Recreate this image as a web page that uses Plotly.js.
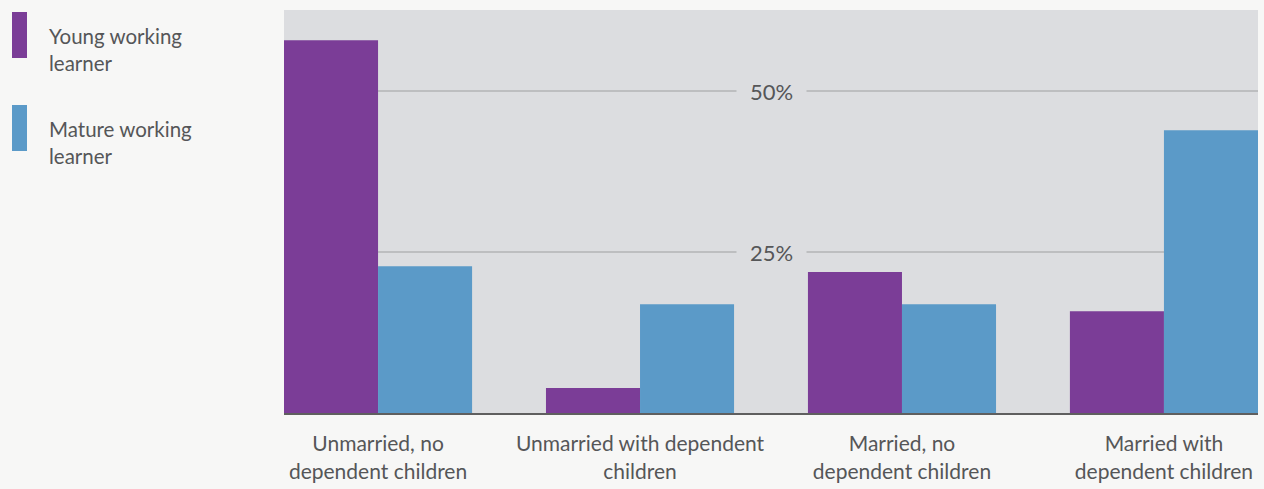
<!DOCTYPE html>
<html>
<head>
<meta charset="utf-8">
<script src="https://cdn.plot.ly/plotly-3.0.1.min.js"></script>
<style>
  html, body { margin: 0; padding: 0; background: #f7f7f6; }
  #chart { width: 1264px; height: 489px; }
</style>
</head>
<body>
<div id="chart"></div>
<script>
const categories = [
  "Unmarried, no<br>dependent children",
  "Unmarried with dependent<br>children",
  "Married, no<br>dependent children",
  "Married with<br>dependent children"
];
const seriesNames = ["Young working<br>learner", "Mature working<br>learner"];
const youngValues = [57.9, 3.9, 21.9, 15.8];
const matureValues = [22.8, 16.9, 16.9, 43.9];
const gridTicks = [25, 50];
const gridLabels = ["25%", "50%"];

const purple = "#7b3d97";
const blue = "#5b9ac8";
const textGray = "#555658";
const plotBg = "#dcdde0";
const tickFont = "Lato, Roboto, sans-serif";

const traces = [
  { type: "bar", x: categories, y: youngValues, name: seriesNames[0], marker: { color: purple }, hoverinfo: "y" },
  { type: "bar", x: categories, y: matureValues, name: seriesNames[1], marker: { color: blue }, hoverinfo: "y" }
];

const annotations = gridTicks.map((v, i) => ({
  xref: "paper", yref: "y", x: 0.5, y: v, text: gridLabels[i], showarrow: false,
  font: { family: tickFont, size: 22, color: textGray },
  bgcolor: plotBg, borderpad: 13, xanchor: "center", yanchor: "middle"
}));

const legendColors = [purple, blue];
const legendTops = [12, 105];
const shapes = [];
legendColors.forEach((c, i) => {
  shapes.push({ type: "rect", xref: "paper", yref: "paper", layer: "above",
    x0: -284/974 + 12/974, x1: -284/974 + 27/974,
    y0: 1 - (legendTops[i] - 10)/403, y1: 1 - (legendTops[i] + 46 - 10)/403,
    fillcolor: c, line: { width: 0 } });
  annotations.push({ xref: "paper", yref: "paper",
    x: -284/974 + 47/974, y: 1 - (legendTops[i] + 10 - 10)/403,
    xanchor: "left", yanchor: "top", align: "left", showarrow: false,
    text: seriesNames[i], font: { family: "Lato, sans-serif", size: 20.5, color: textGray } });
});

const layout = {
  width: 1264, height: 489,
  paper_bgcolor: "#f7f7f6", plot_bgcolor: plotBg,
  margin: { l: 284, r: 6, t: 10, b: 76, pad: 0 },
  barmode: "group", bargap: 0.282, bargroupgap: 0,
  showlegend: false,
  xaxis: {
    type: "category", range: [-0.359, 3.359],
    showline: true, linecolor: "#5f5f5f", linewidth: 2,
    ticks: "outside", ticklen: 11, tickcolor: "rgba(0,0,0,0)",
    tickfont: { family: tickFont, size: 21, color: textGray },
    showgrid: false, fixedrange: true
  },
  yaxis: {
    range: [0, 62.58], tickvals: gridTicks, showticklabels: false,
    showgrid: true, gridcolor: "#bdbec0", gridwidth: 2,
    zeroline: false, showline: false, fixedrange: true
  },
  annotations: annotations,
  shapes: shapes
};

Plotly.newPlot("chart", traces, layout, { displayModeBar: false, staticPlot: true });
</script>
</body>
</html>
